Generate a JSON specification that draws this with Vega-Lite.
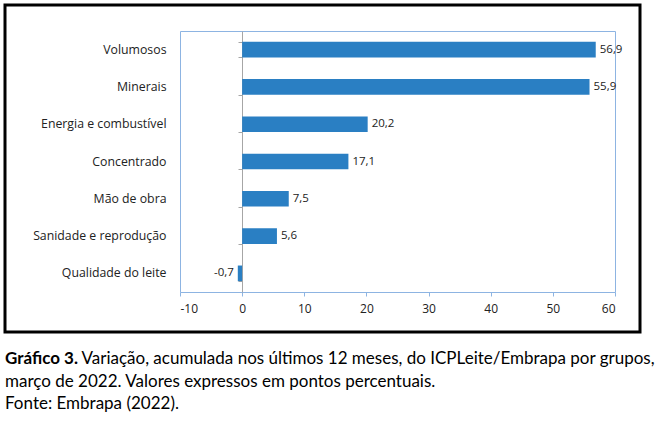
{
  "$schema": "https://vega.github.io/schema/vega-lite/v6.json",
  "width": 635,
  "height": 327,
  "autosize": {"type": "none"},
  "padding": {"left": 5, "top": 5, "right": 26, "bottom": 92},
  "background": "white",
  "config": {
    "view": {"stroke": "#000000", "strokeWidth": 3},
    "locale": {"number": {"decimal": ",", "thousands": ".", "grouping": [3], "currency": ["R$", ""], "minus": "-"}}
  },
  "data": {
    "values": [
      {"grupo": "Volumosos", "valor": 56.9},
      {"grupo": "Minerais", "valor": 55.9},
      {"grupo": "Energia e combustível", "valor": 20.2},
      {"grupo": "Concentrado", "valor": 17.1},
      {"grupo": "Mão de obra", "valor": 7.5},
      {"grupo": "Sanidade e reprodução", "valor": 5.6},
      {"grupo": "Qualidade do leite", "valor": -0.7}
    ]
  },
  "title": {
    "text": "Gráfico 3.",
    "subtitle": [
      "\u200b\u2003\u2003\u2003\u2003\u2003\u2002\u2009\u2009Variação, acumulada nos últimos 12 meses, do ICPLeite/Embrapa por grupos,",
      "março de 2022. Valores expressos em pontos percentuais.",
      "Fonte: Embrapa (2022)."
    ],
    "orient": "bottom",
    "anchor": "start",
    "frame": "group",
    "offset": 19,
    "font": "Lato",
    "fontSize": 17,
    "fontWeight": "bold",
    "color": "#000000",
    "subtitleFont": "Lato",
    "subtitleFontSize": 17,
    "subtitleFontWeight": "normal",
    "subtitleColor": "#000000",
    "subtitleLineHeight": 22.5,
    "subtitlePadding": -17
  },
  "layer": [
    {
      "mark": {"type": "bar", "color": "#2A7FC3"},
      "encoding": {
        "y": {
          "field": "grupo", "type": "nominal", "sort": null,
          "scale": {"range": [26, 287], "paddingInner": 0.58, "paddingOuter": 0.29},
          "axis": {"orient": "left", "offset": -175, "ticks": false, "domainColor": "#8DB4E2", "labelPadding": 14, "labelFont": "Open Sans", "labelFontSize": 12.3, "labelColor": "#222222", "title": null, "grid": false}
        },
        "x": {
          "field": "valor", "type": "quantitative",
          "scale": {"domain": [-10, 60], "range": [175, 610], "nice": false, "zero": false},
          "axis": {"orient": "bottom", "offset": -40, "values": [-10, 0, 10, 20, 30, 40, 50, 60], "format": "d", "grid": false, "domainColor": "#8DB4E2", "tickColor": "#8DB4E2", "tickSize": 4, "labelPadding": 7, "labelFont": "Open Sans", "labelFontSize": 12, "labelColor": "#222222", "title": null}
        }
      }
    },
    {
      "transform": [{"filter": "datum.valor >= 0"}],
      "mark": {"type": "text", "align": "left", "baseline": "middle", "dx": 4, "font": "Open Sans", "fontSize": 11.5, "color": "#222222"},
      "encoding": {
        "y": {
          "field": "grupo", "type": "nominal", "sort": null,
          "axis": {"orient": "left", "offset": -237, "labels": false, "domainColor": "#A6A6A6", "tickColor": "#A6A6A6", "tickSize": 4, "tickBand": "extent", "title": null, "grid": false}
        },
        "x": {
          "field": "valor", "type": "quantitative",
          "axis": {"orient": "top", "offset": -26, "labels": false, "ticks": false, "domainColor": "#8DB4E2", "title": null, "grid": false}
        },
        "text": {"field": "valor", "type": "quantitative", "format": ".1f"}
      }
    },
    {
      "transform": [{"filter": "datum.valor < 0"}],
      "mark": {"type": "text", "align": "right", "baseline": "middle", "dx": -4, "font": "Open Sans", "fontSize": 11.5, "color": "#222222"},
      "encoding": {
        "y": {
          "field": "grupo", "type": "nominal", "sort": null,
          "axis": {"orient": "right", "offset": -25, "labels": false, "ticks": false, "domainColor": "#8DB4E2", "title": null, "grid": false}
        },
        "x": {"field": "valor", "type": "quantitative", "axis": null},
        "text": {"field": "valor", "type": "quantitative", "format": ".1f"}
      }
    }
  ],
  "resolve": {"axis": {"x": "independent", "y": "independent"}}
}
